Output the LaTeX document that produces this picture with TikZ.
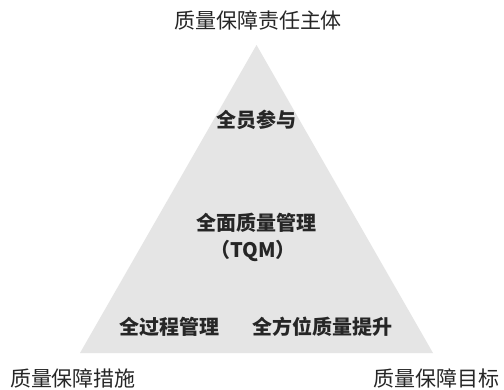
\documentclass[tikz,border=0pt]{standalone}
\usepackage{fontspec}
\newfontfamily\cjk{Noto Sans CJK SC}
\begin{document}
\begin{tikzpicture}[x=1pt,y=-1pt,
  outer/.style={font=\cjk\fontsize{21}{24}\selectfont, text=black!85, inner sep=0pt},
  inner/.style={font=\cjk\bfseries\fontsize{20}{24}\selectfont, text=black!85, inner sep=0pt}]
\useasboundingbox[fill=white] (0,0) rectangle (504,389);
\coordinate (A) at (256.5,45);
\coordinate (L) at (80,353);
\coordinate (R) at (433,353);
\fill[fill=black!10] (A) -- (L) -- (R) -- cycle;
\node[outer] (top) at (258,20) {质量保障责任主体};
\node[outer] (bl) at (73,378) {质量保障措施};
\node[outer] (br) at (436,378) {质量保障目标};
\node[inner] (p1) at (256,120) {全员参与};
\node[inner] (p2) at (256,223) {全面质量管理};
\node[inner] (p3) at (253,251) {（TQM）};
\node[inner] (p4) at (169,327) {全过程管理};
\node[inner] (p5) at (322,327) {全方位质量提升};
\end{tikzpicture}
\end{document}
